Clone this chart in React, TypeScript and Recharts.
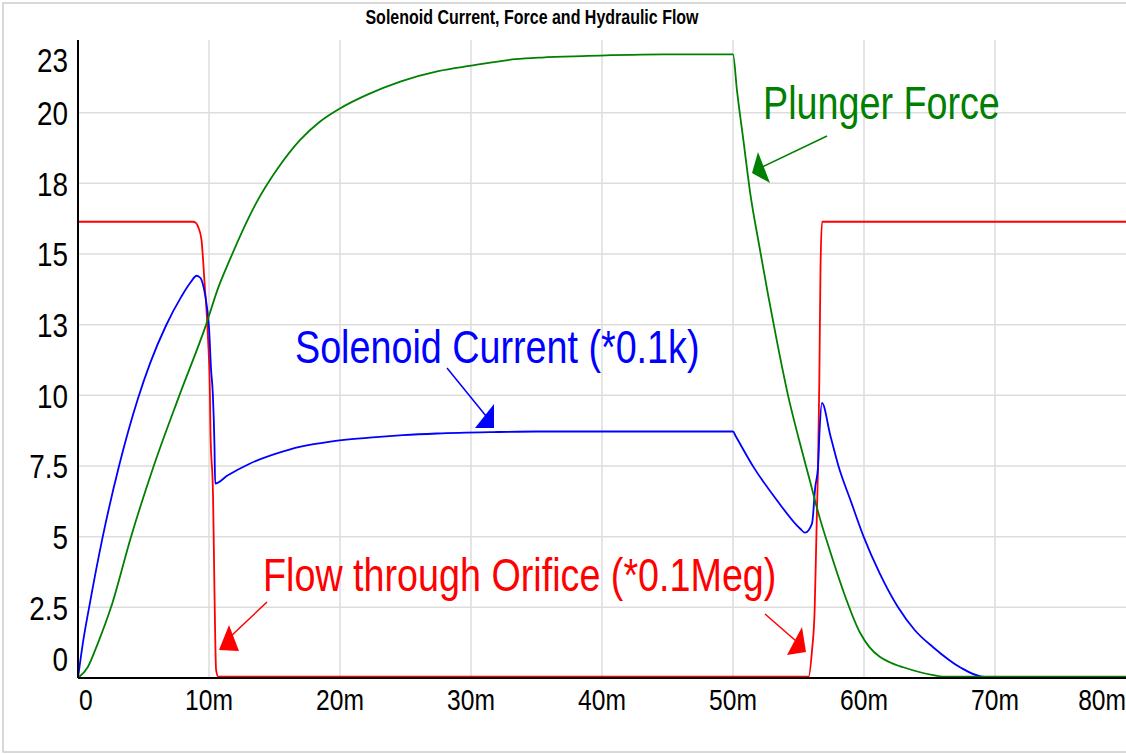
import React from 'react';
import { LineChart, Line, XAxis, YAxis, CartesianGrid } from 'recharts';

// time axis in ms
const xTicks = [0, 10, 20, 30, 40, 50, 60, 70, 80];
const xTickLabels = ['0', '10m', '20m', '30m', '40m', '50m', '60m', '70m', '80m'];
const yTicks = [0, 2.5, 5, 7.5, 10, 12.5, 15, 17.5, 20, 22.5];
const yTickLabels = ['0', '2.5', '5', '7.5', '10', '13', '15', '18', '20', '23'];

// Solenoid Current (*0.1k)
const currentT = [0, 0.36, 0.87, 1.89, 3.16, 4.56, 5.5, 6.72, 7.9, 8.6, 9.05, 9.35, 9.6, 9.85, 10.0, 10.16, 10.29, 10.42, 10.47, 11.44, 13.1, 16.2, 20.5, 23.0, 24.8, 27.4, 31.7, 35, 50, 50.2, 51.57, 53.35, 55.13, 55.5, 56.03, 56.28, 56.49, 56.6, 56.79, 57.42, 58.05, 59.0, 59.97, 61.2, 62.6, 63.9, 65.3, 67.33, 69.0, 70, 80];
const currentV = [0, 1.2, 2.55, 5.0, 7.55, 9.86, 11.13, 12.47, 13.5, 14.0, 14.23, 14.15, 13.8, 13.1, 12.4, 10.9, 10.07, 8.17, 6.88, 7.17, 7.58, 8.09, 8.43, 8.53, 8.59, 8.65, 8.7, 8.72, 8.72, 8.56, 7.46, 6.29, 5.28, 5.14, 5.46, 6.76, 7.46, 8.66, 9.73, 8.6, 7.5, 6.25, 5.0, 3.7, 2.5, 1.68, 1.08, 0.38, 0.05, 0.03, 0.03];

// Plunger Force
const forceT = [0, 0.74, 1.5, 2.52, 4.05, 5.78, 7.74, 9.78, 10.7, 11.5, 13.1, 13.6, 15.16, 16.94, 18.46, 20.0, 22.0, 24.6, 27.5, 30, 33.4, 35.4, 38.5, 44.7, 50, 50.3, 50.8, 51.3, 52.0, 52.7, 53.4, 54.2, 55.0, 55.8, 56.6, 57.4, 58.4, 59.7, 60.4, 61.2, 62.0, 63.0, 65.3, 66.0, 80];
const forceV = [0, 0.38, 1.21, 2.5, 5.0, 7.5, 10.0, 12.5, 13.8, 14.7, 16.35, 16.8, 17.97, 19.03, 19.68, 20.15, 20.62, 21.1, 21.47, 21.66, 21.89, 21.95, 22.0, 22.06, 22.06, 20.8, 19.0, 17.2, 15.3, 13.5, 11.8, 10.0, 8.5, 7.1, 5.7, 4.5, 3.1, 1.6, 1.1, 0.75, 0.55, 0.38, 0.1, 0.05, 0.05];

// Flow through Orifice (*0.1Meg)
const flowT = [0, 8.79, 9.0, 9.17, 9.43, 9.55, 9.68, 9.81, 9.93, 10.06, 10.11, 10.31, 10.42, 10.54, 10.7, 55.77, 56.03, 56.23, 56.33, 56.41, 56.49, 56.59, 56.68, 56.8, 80];
const flowV = [16.14, 16.14, 16.1, 15.96, 15.49, 14.78, 13.84, 13.01, 11.95, 10.3, 8.76, 6.4, 3.0, 0.3, 0.05, 0.05, 0.97, 2.39, 4.28, 5.93, 7.46, 10.55, 14.5, 16.14, 16.14];

const zip = (ts: number[], vs: number[]) => ts.map((t, i) => ({ t, v: vs[i] }));
const currentData = zip(currentT, currentV);
const forceData = zip(forceT, forceV);
const flowData = zip(flowT, flowV);

const FONT = '"Liberation Sans", Arial, sans-serif';
const SQUEEZE = 0.82;

const NText = ({ x, y, size, anchor = 'start', fill = '#000', bold = false, children }: any) => (
  <text
    transform={`translate(${x},${y}) scale(${SQUEEZE},1)`}
    x={0}
    y={0}
    textAnchor={anchor}
    fontSize={size}
    fontWeight={bold ? 'bold' : 'normal'}
    fontFamily={FONT}
    fill={fill}
  >
    {children}
  </text>
);

const XTick = (props: any) => {
  const { x, y, payload } = props;
  const i = xTicks.indexOf(payload.value);
  let anchor = 'middle';
  let tx = x;
  if (i === 0) { anchor = 'start'; tx = x + 1; }
  if (i === xTicks.length - 1) { anchor = 'end'; }
  return <NText x={tx} y={y + 32} size={30} anchor={anchor}>{xTickLabels[i]}</NText>;
};

const YTick = (props: any) => {
  const { x, y, payload } = props;
  const i = yTicks.indexOf(payload.value);
  let shift = 0;
  if (i === 0) shift = -19.5;
  if (i === yTicks.length - 1) shift = 17.5;
  return <NText x={x - 10} y={y + 12.5 + shift} size={34} anchor="end">{yTickLabels[i]}</NText>;
};

export default function App() {
  return (
    <div style={{ position: 'absolute', left: 0, top: 0, width: 1126, height: 754, background: '#fff' }}>
      <LineChart width={1126} height={754} margin={{ top: 40, right: 0, bottom: 0, left: 0 }}>
        <CartesianGrid
          stroke="#dddddd"
          strokeWidth={1.5}
          horizontalValues={[2.5, 5, 7.5, 10, 12.5, 15, 17.5, 20]}
          verticalValues={[10, 20, 30, 40, 50, 60, 70]}
        />
        <XAxis
          dataKey="t"
          type="number"
          domain={[0, 80]}
          ticks={xTicks}
          allowDataOverflow
          height={76}
          tickLine={false}
          tickSize={0}
          tickMargin={0}
          tick={<XTick />}
          axisLine={{ stroke: '#000', strokeWidth: 2 }}
          interval={0}
        />
        <YAxis
          type="number"
          domain={[0, 22.57]}
          ticks={yTicks}
          allowDataOverflow
          width={78}
          tickLine={false}
          tickSize={0}
          tickMargin={0}
          tick={<YTick />}
          axisLine={{ stroke: '#000', strokeWidth: 2 }}
          interval={0}
        />
        <Line data={flowData} dataKey="v" type="monotone" stroke="#ff0000" strokeWidth={1.8} dot={false} isAnimationActive={false} />
        <Line data={currentData} dataKey="v" type="monotone" stroke="#0000ff" strokeWidth={1.8} dot={false} isAnimationActive={false} />
        <Line data={forceData} dataKey="v" type="monotone" stroke="#008000" strokeWidth={1.8} dot={false} isAnimationActive={false} />
      </LineChart>
      <svg width={1126} height={754} style={{ position: 'absolute', left: 0, top: 0, pointerEvents: 'none' }}>
        <rect x={3} y={3} width={1140} height={749} fill="none" stroke="#cccccc" strokeWidth={1.5} />
        <NText x={532} y={24} size={19.5} anchor="middle" bold>Solenoid Current, Force and Hydraulic Flow</NText>
        <NText x={763} y={119} size={46} fill="#008000">Plunger Force</NText>
        <line x1={827} y1={136} x2={762} y2={167} stroke="#008000" strokeWidth={1.5} />
        <polygon points="752,173 758,152 770,183" fill="#008000" />
        <NText x={295} y={363} size={46} fill="#0000ff">Solenoid Current (*0.1k)</NText>
        <line x1={447} y1={368} x2={486} y2={416} stroke="#0000ff" strokeWidth={1.5} />
        <polygon points="494,404 475,428 494,428" fill="#0000ff" />
        <NText x={263} y={591} size={46} fill="#ff0000">Flow through Orifice (*0.1Meg)</NText>
        <line x1={267} y1={602} x2={229} y2={638} stroke="#ff0000" strokeWidth={1.5} />
        <polygon points="219,650 229,625 239,651" fill="#ff0000" />
        <line x1={765} y1={614} x2={796} y2={641} stroke="#ff0000" strokeWidth={1.5} />
        <polygon points="802,627 787,655 806,652" fill="#ff0000" />
      </svg>
    </div>
  );
}
